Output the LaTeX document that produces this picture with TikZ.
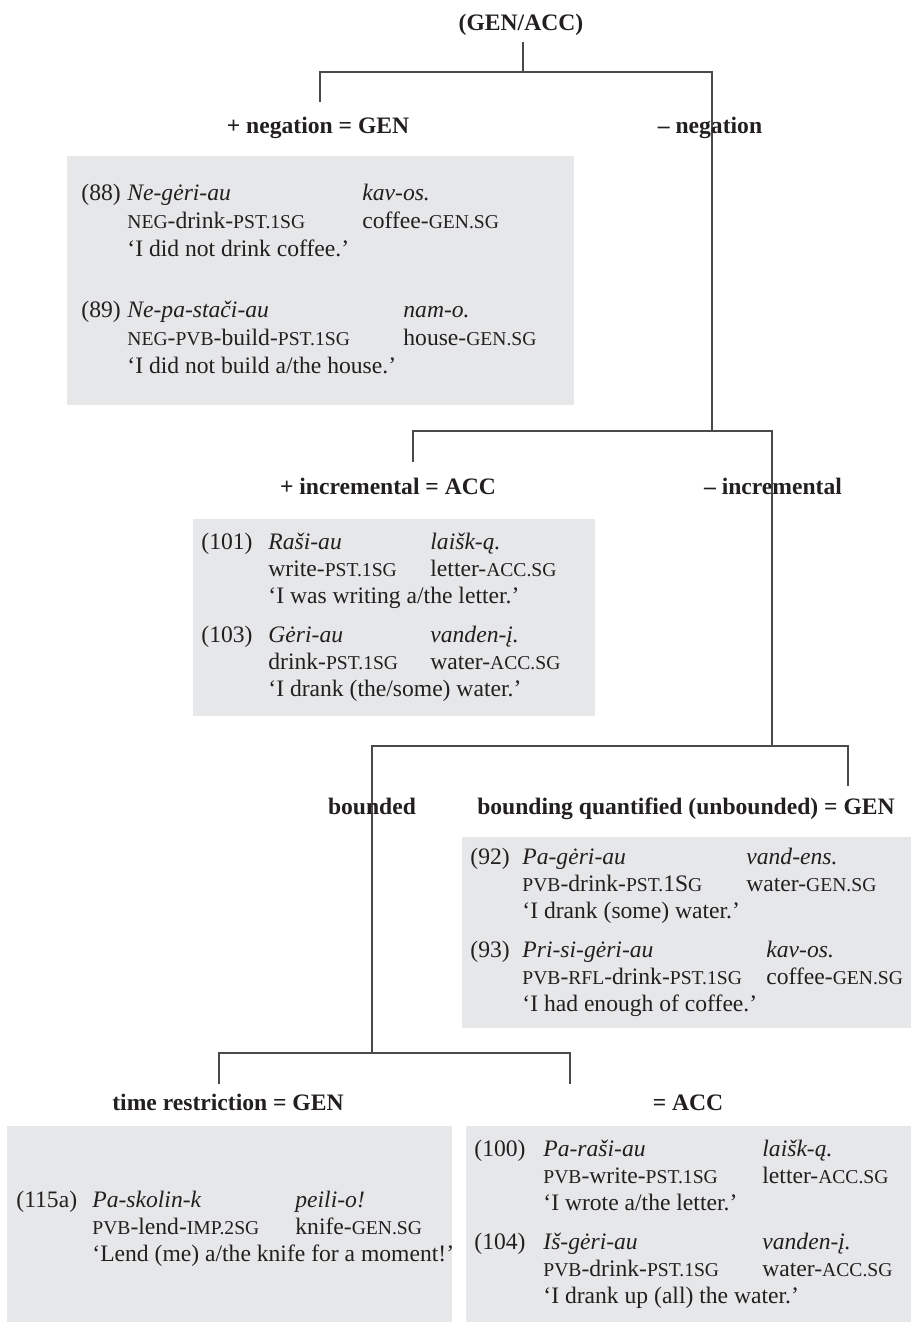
\documentclass[tikz,border=0pt]{standalone}
\usepackage{fontspec}
\setmainfont{Liberation Serif}
% small capitals for the gloss abbreviations
\newcommand\gsc[1]{{\fontsize{9.8}{11}\selectfont #1}}
\definecolor{boxgray}{HTML}{E6E7E8}
\definecolor{ink}{HTML}{231F20}
\definecolor{linegray}{HTML}{4A4A4A}

\begin{document}
\begin{tikzpicture}[x=0.5pt,y=-0.5pt,
  conn/.style={draw=linegray, line width=0.65pt},
  exbox/.style={fill=boxgray, draw=none},
  hd/.style={anchor=base, inner sep=0pt, text=ink, font=\fontsize{11.8}{14}\selectfont\bfseries},
  tx/.style={anchor=base west, inner sep=0pt, text=ink, font=\fontsize{11.8}{14}\selectfont},
  it/.style={tx, font=\fontsize{11.8}{14}\selectfont\itshape}]

\useasboundingbox (0,0) rectangle (911,1329);

% example boxes
\path[exbox] (67,156) rectangle (574,405);
\path[exbox] (193,519) rectangle (595,716);
\path[exbox] (462,837) rectangle (911,1028);
\path[exbox] (7,1126) rectangle (452,1322);
\path[exbox] (466,1126) rectangle (911,1322);

% branching points of the tree
\coordinate (rootb) at (523,42);
\coordinate (j1) at (523,72);
\coordinate (j1l) at (320,72);
\coordinate (j1r) at (712,72);
\coordinate (negt) at (320,102);
\coordinate (j2) at (712,431);
\coordinate (j2l) at (413,431);
\coordinate (j2r) at (772,431);
\coordinate (inct) at (413,462);
\coordinate (j3) at (772,746);
\coordinate (j3l) at (372,746);
\coordinate (j3r) at (848,746);
\coordinate (bqt) at (848,786);
\coordinate (j4) at (372,1053);
\coordinate (j4l) at (219,1053);
\coordinate (j4r) at (570,1053);
\coordinate (trt) at (219,1084);
\coordinate (acct) at (570,1084);

% connectors
\draw[conn] (rootb) -- (j1);
\draw[conn] (negt) -- (j1l) -- (j1r) -- (j2);
\draw[conn] (inct) -- (j2l) -- (j2r) -- (j3);
\draw[conn] (j4) -- (j3l) -- (j3r) -- (bqt);
\draw[conn] (trt) -- (j4l) -- (j4r) -- (acct);

% feature labels
\node[hd] (root) at (521,30) {(GEN/ACC)};
\node[hd] (pneg) at (318,133) {+ negation = GEN};
\node[hd] (mneg) at (710,133) {– negation};
\node[hd] (pinc) at (388,494) {+ incremental = ACC};
\node[hd] (minc) at (773,494) {– incremental};
\node[hd] (bnd) at (372,814) {bounded};
\node[hd] (bq) at (686,814) {bounding quantified (unbounded) = GEN};
\node[hd] (trs) at (228,1110) {time restriction = GEN};
\node[hd] (acc) at (688,1110) {= ACC};

% (88), (89)
\node[tx] (n88) at (81,200) {(88)};
\node[it] (w88a) at (127,200) {Ne-gėri-au};
\node[it] (w88b) at (362,200) {kav-os.};
\node[tx] (g88a) at (127,228) {\gsc{NEG}-drink-\gsc{PST.1SG}};
\node[tx] (g88b) at (362,228) {coffee-\gsc{GEN.SG}};
\node[tx] (t88) at (127,256) {‘I did not drink coffee.’};
\node[tx] (n89) at (81,317) {(89)};
\node[it] (w89a) at (127,317) {Ne-pa-stači-au};
\node[it] (w89b) at (403,317) {nam-o.};
\node[tx] (g89a) at (127,345) {\gsc{NEG}-\gsc{PVB}-build-\gsc{PST.1SG}};
\node[tx] (g89b) at (403,345) {house-\gsc{GEN.SG}};
\node[tx] (t89) at (127,373) {‘I did not build a/the house.’};

% (101), (103)
\node[tx] (n101) at (201,549) {(101)};
\node[it] (w101a) at (268,549) {Raši-au};
\node[it] (w101b) at (430,549) {laišk-ą.};
\node[tx] (g101a) at (268,576) {write-\gsc{PST.1SG}};
\node[tx] (g101b) at (430,576) {letter-\gsc{ACC.SG}};
\node[tx] (t101) at (268,603) {‘I was writing a/the letter.’};
\node[tx] (n103) at (201,642) {(103)};
\node[it] (w103a) at (268,642) {Gėri-au};
\node[it] (w103b) at (430,642) {vanden-į.};
\node[tx] (g103a) at (268,669) {drink-\gsc{PST.1SG}};
\node[tx] (g103b) at (430,669) {water-\gsc{ACC.SG}};
\node[tx] (t103) at (268,696) {‘I drank (the/some) water.’};

% (92), (93)
\node[tx] (n92) at (470,864) {(92)};
\node[it] (w92a) at (522,864) {Pa-gėri-au};
\node[it] (w92b) at (746,864) {vand-ens.};
\node[tx] (g92a) at (522,891) {\gsc{PVB}-drink-\gsc{PST.}1S\gsc{G}};
\node[tx] (g92b) at (746,891) {water-\gsc{GEN.SG}};
\node[tx] (t92) at (522,918) {‘I drank (some) water.’};
\node[tx] (n93) at (470,957) {(93)};
\node[it] (w93a) at (522,957) {Pri-si-gėri-au};
\node[it] (w93b) at (766,957) {kav-os.};
\node[tx] (g93a) at (522,984) {\gsc{PVB}-\gsc{RFL}-drink-\gsc{PST.1SG}};
\node[tx] (g93b) at (766,984) {coffee-\gsc{GEN.SG}};
\node[tx] (t93) at (522,1011) {‘I had enough of coffee.’};

% (115a)
\node[tx] (n115) at (16,1207) {(115a)};
\node[it] (w115a) at (92,1207) {Pa-skolin-k};
\node[it] (w115b) at (295,1207) {peili-o!};
\node[tx] (g115a) at (92,1234) {\gsc{PVB}-lend-\gsc{IMP.2SG}};
\node[tx] (g115b) at (295,1234) {knife-\gsc{GEN.SG}};
\node[tx] (t115) at (92,1261) {‘Lend (me) a/the knife for a moment!’};

% (100), (104)
\node[tx] (n100) at (474,1156) {(100)};
\node[it] (w100a) at (543,1156) {Pa-raši-au};
\node[it] (w100b) at (762,1156) {laišk-ą.};
\node[tx] (g100a) at (543,1183) {\gsc{PVB}-write-\gsc{PST.1SG}};
\node[tx] (g100b) at (762,1183) {letter-\gsc{ACC.SG}};
\node[tx] (t100) at (543,1210) {‘I wrote a/the letter.’};
\node[tx] (n104) at (474,1249) {(104)};
\node[it] (w104a) at (543,1249) {Iš-gėri-au};
\node[it] (w104b) at (762,1249) {vanden-į.};
\node[tx] (g104a) at (543,1276) {\gsc{PVB}-drink-\gsc{PST.1SG}};
\node[tx] (g104b) at (762,1276) {water-\gsc{ACC.SG}};
\node[tx] (t104) at (543,1303) {‘I drank up (all) the water.’};

\end{tikzpicture}
\end{document}
